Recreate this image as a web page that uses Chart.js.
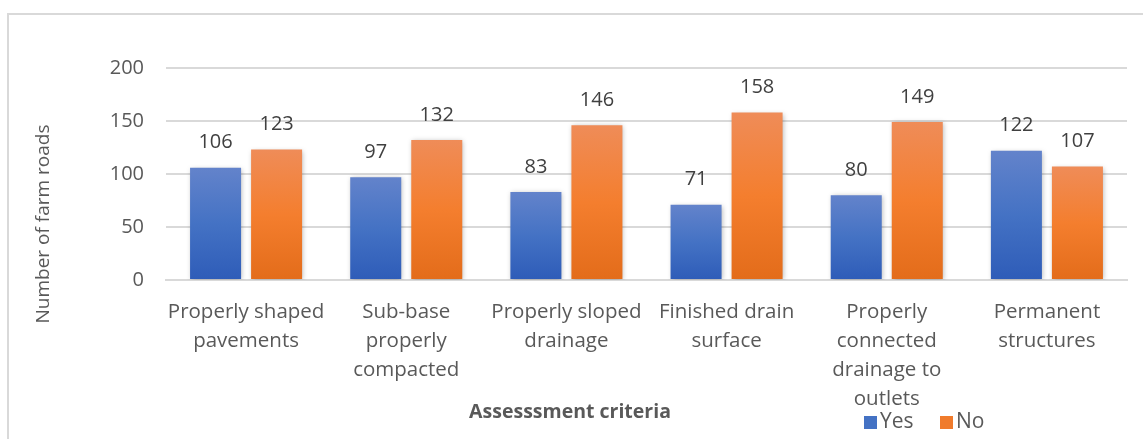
<!DOCTYPE html>
<html>
<head>
<meta charset="utf-8">
<script src="https://cdn.jsdelivr.net/npm/chart.js@4.4.1/dist/chart.umd.min.js"></script>
<style>
  html, body { margin: 0; padding: 0; background: #fff; overflow: hidden; }
  #frame { position: absolute; left: 7px; top: 13px; width: 1200px; height: 500px; border: 2px solid #d9d9d9; box-sizing: border-box; }
  #wrap { position: absolute; left: 0; top: 0; width: 1143px; height: 439px; }
</style>
</head>
<body>
<div id="frame"></div>
<div id="wrap"><canvas id="myChart"></canvas></div>
<script>
const categories = [
  ["Properly shaped", "pavements"],
  ["Sub-base", "properly", "compacted"],
  ["Properly sloped", "drainage"],
  ["Finished drain", "surface"],
  ["Properly", "connected", "drainage to", "outlets"],
  ["Permanent", "structures"]
];
const yesValues = [106, 97, 83, 71, 80, 122];
const noValues = [123, 132, 146, 158, 149, 107];
const yTicks = [0, 50, 100, 150, 200];
const seriesNames = ["Yes", "No"];
const yTitle = "Number of farm roads";
const xTitle = "Assesssment criteria";

const blueStops = ["#6383cb", "#4472c4", "#2e5cb8"];
const orangeStops = ["#ef8c58", "#f47e2e", "#e36c1a"];
const legendColors = ["#4472c4", "#f07b2c"];

const FONT = "'Open Sans', sans-serif";
const textGray = "#595959";

function barGradient(stops) {
  return function (ctx) {
    const chart = ctx.chart;
    if (!chart.chartArea || ctx.parsed === undefined) return stops[1];
    const y = chart.scales.y;
    const top = y.getPixelForValue(ctx.parsed.y);
    const bottom = y.getPixelForValue(0);
    if (!isFinite(top) || !isFinite(bottom) || top === bottom) return stops[1];
    const g = chart.ctx.createLinearGradient(0, top, 0, bottom);
    g.addColorStop(0, stops[0]);
    g.addColorStop(0.5, stops[1]);
    g.addColorStop(1, stops[2]);
    return g;
  };
}

// soft shadow under bars + value labels + titles + legend
const decor = {
  id: "decor",
  beforeDatasetsDraw(chart) {
    const c = chart.ctx;
    c.save();
    c.shadowColor = "rgba(0,0,0,0.28)";
    c.shadowBlur = 5;
    c.shadowOffsetX = 1;
    c.shadowOffsetY = 1;
  },
  afterDatasetsDraw(chart) {
    chart.ctx.restore();
    const c = chart.ctx;
    c.save();
    c.font = "20px " + FONT;
    c.fillStyle = "#404040";
    c.textAlign = "center";
    c.textBaseline = "middle";
    chart.data.datasets.forEach((ds, i) => {
      chart.getDatasetMeta(i).data.forEach((bar, j) => {
        c.fillText(String(ds.data[j]), bar.x, bar.y - 25);
      });
    });
    c.restore();
  },
  afterDraw(chart) {
    const c = chart.ctx;
    c.save();
    // y title
    c.font = "19px " + FONT;
    c.fillStyle = textGray;
    c.textAlign = "center";
    c.textBaseline = "middle";
    c.translate(44, 224);
    c.rotate(-Math.PI / 2);
    c.fillText(yTitle, 0, 0);
    c.restore();

    c.save();
    c.font = "bold 19.5px " + FONT;
    c.fillStyle = textGray;
    c.textAlign = "center";
    c.textBaseline = "middle";
    c.fillText(xTitle, 570, 412);

    // legend
    c.font = "21px " + FONT;
    c.textAlign = "left";
    const legendX = [864, 940];
    chart.data.datasets.forEach((ds, i) => {
      c.fillStyle = legendColors[i];
      c.fillRect(legendX[i], 416, 13, 13);
      c.fillStyle = textGray;
      c.fillText(ds.label, legendX[i] + 16, 422);
    });
    c.restore();
  }
};

new Chart("myChart", {
  type: "bar",
  data: {
    labels: categories,
    datasets: [
      { label: seriesNames[0], data: yesValues, backgroundColor: barGradient(blueStops) },
      { label: seriesNames[1], data: noValues, backgroundColor: barGradient(orangeStops) }
    ]
  },
  options: {
    responsive: true,
    maintainAspectRatio: false,
    animation: false,
    events: [],
    layout: { padding: { left: 0, right: 16, top: 68, bottom: 0 } },
    datasets: {
      bar: { categoryPercentage: 0.762, barPercentage: 0.836 }
    },
    plugins: {
      legend: { display: false },
      tooltip: { enabled: false }
    },
    scales: {
      x: {
        grid: { display: false },
        border: { color: "#d9d9d9", width: 2 },
        ticks: {
          color: textGray,
          font: { family: FONT, size: 20.5, lineHeight: 1.41 },
          padding: 10,
          maxRotation: 0,
          autoSkip: false
        },
        afterFit(scale) { scale.height = 159; }
      },
      y: {
        min: 0,
        max: 200,
        afterBuildTicks(scale) { scale.ticks = yTicks.map(v => ({ value: v })); },
        grid: { color: "#d9d9d9", lineWidth: 2, drawTicks: false },
        border: { display: false },
        ticks: {
          color: textGray,
          font: { family: FONT, size: 20 },
          padding: 22
        },
        afterFit(scale) { scale.width = 166; }
      }
    }
  },
  plugins: [decor]
});
</script>
</body>
</html>
